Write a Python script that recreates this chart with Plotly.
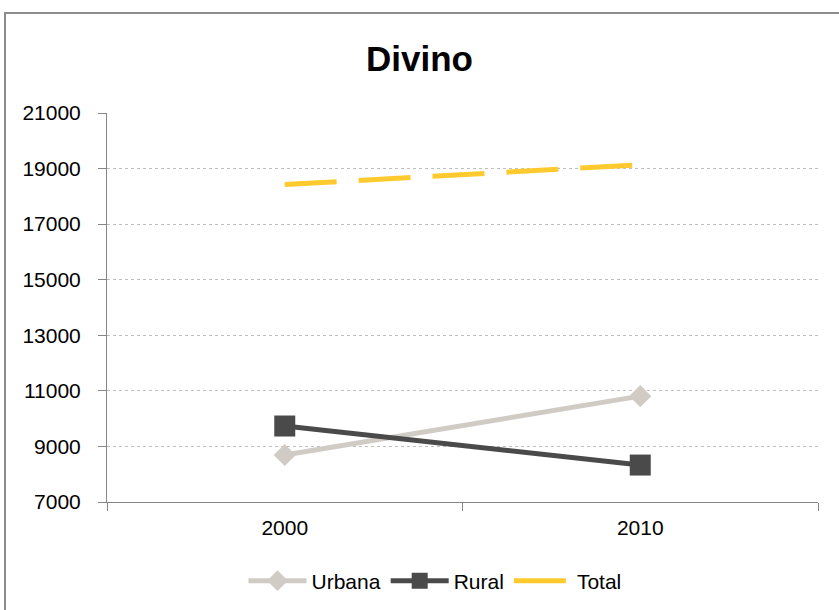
import plotly.graph_objects as go

years = ["2000", "2010"]
urbana = [8690, 10810]
rural = [9735, 8330]
total = [18425, 19140]

FONT = "Liberation Sans, Arial, sans-serif"

fig = go.Figure()
fig.add_trace(go.Scatter(x=years, y=urbana, name="Urbana", mode="lines+markers",
                         line=dict(color="#D0CBC5", width=5),
                         marker=dict(symbol="diamond", size=17, color="#D0CBC5")))
fig.add_trace(go.Scatter(x=years, y=rural, name="Rural", mode="lines+markers",
                         line=dict(color="#4A4A4A", width=5),
                         marker=dict(symbol="square", size=21, color="#4A4A4A")))
fig.add_trace(go.Scatter(x=years, y=total, name="Total", mode="lines",
                         line=dict(color="#FFCA2E", width=5, dash="52px,22px")))

L, R, T, B = 107, 818, 113, 502
W, H = 839, 610
pw, ph = R - L, B - T

fig.update_layout(
    width=W, height=H,
    margin=dict(l=L, r=W - R, t=T, b=H - B, autoexpand=False),
    paper_bgcolor="white", plot_bgcolor="white",
    font=dict(family=FONT, size=21, color="#000000"),
    title=dict(text="<b>Divino</b>", x=0.5, xanchor="center", y=1 - 59 / H, yanchor="middle",
               font=dict(family=FONT, size=35, color="#000000")),
    showlegend=True,
    legend=dict(orientation="h", x=(435 - L) / pw, xanchor="center", y=-(581 - B) / ph,
                yanchor="middle", font=dict(family=FONT, size=21), itemwidth=58, tracegroupgap=0),
    xaxis=dict(range=[-0.5, 1.5], showgrid=False, showline=True, linecolor="#868686", linewidth=1,
               ticks="outside", ticklen=8, tickcolor="#868686", tickson="boundaries",
               tickfont=dict(size=21), zeroline=False, fixedrange=True, ticklabelstandoff=7),
    yaxis=dict(range=[7000, 21000], dtick=2000, tick0=7000, tickformat="d", showgrid=True,
               gridcolor="#BFBFBF", griddash="3px,3px", gridwidth=1, showline=True,
               linecolor="#868686", linewidth=1, ticks="outside", ticklen=8, tickcolor="#868686",
               tickfont=dict(size=21), zeroline=False, ticklabelstandoff=13, fixedrange=True),
    shapes=[dict(type="rect", xref="paper", yref="paper",
                 x0=(5 - L) / pw, x1=(845 - L) / pw, y0=(B - 625) / ph, y1=(B - 13) / ph,
                 line=dict(color="#8C8C8C", width=2), fillcolor="rgba(0,0,0,0)", layer="below")],
)

fig.write_html("out.html", config={"displayModeBar": False},
               post_script="document.body.style.margin='0';")
